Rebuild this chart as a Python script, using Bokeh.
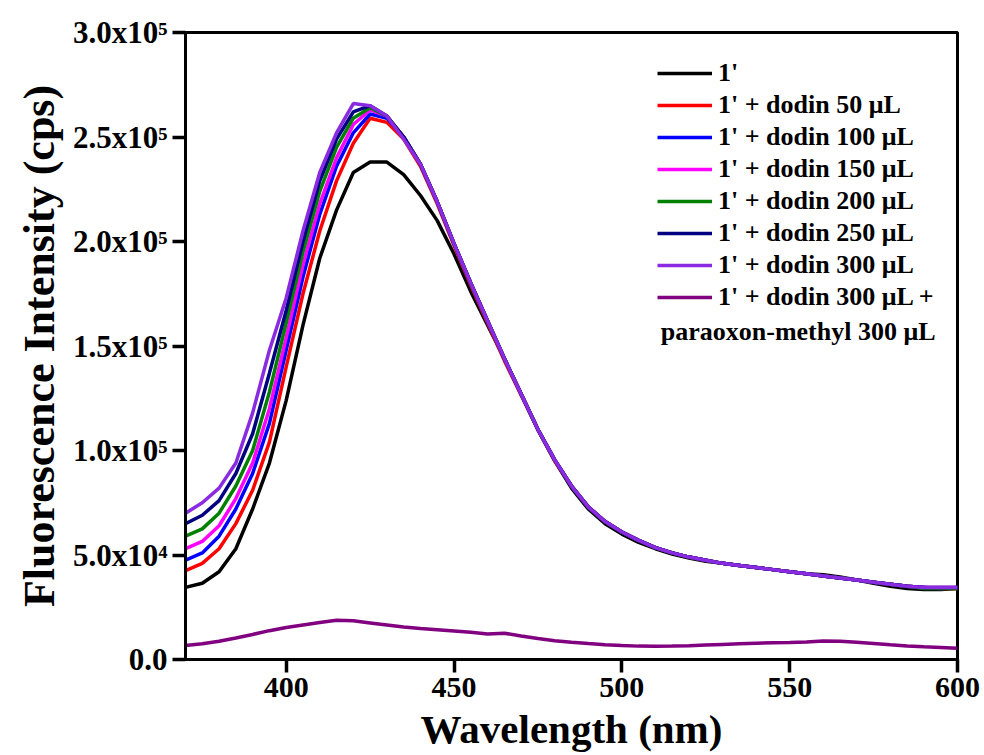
from bokeh.plotting import figure
from bokeh.models import Legend, LegendItem, Label, FixedTicker, Range1d
from bokeh.embed import file_html
from bokeh.resources import INLINE

# ---------------- data ----------------
wavelength = [370, 375, 380, 385, 390, 395, 400, 405, 410, 415, 420, 425,
              430, 435, 440, 445, 450, 455, 460, 465, 470, 475, 480, 485,
              490, 495, 500, 505, 510, 515, 520, 525, 530, 535, 540, 545,
              550, 555, 560, 565, 570, 575, 580, 585, 590, 595, 600]

s_1 = [34500, 36500, 42000, 53000, 72000, 94000, 124000, 160000, 192000, 215000, 233000, 238000,
       238000, 232000, 222000, 210000, 194000, 176000, 160000, 144000, 127000, 110000, 95000, 82000,
       72000, 65000, 60000, 56000, 53000, 50500, 48500, 47000, 46000, 45000, 44000, 43000,
       42000, 41000, 40500, 39500, 38000, 36500, 35000, 34000, 33500, 33500, 34000]

s_50 = [42500, 46000, 53000, 65000, 81000, 104000, 140000, 175000, 205000, 229000, 247000, 259000,
        257000, 249000, 236000, 218000, 198000, 179000, 161000, 143000, 126500, 110000, 95000, 83000,
        73000, 66000, 61000, 57000, 53500, 51000, 49000, 47500, 46000, 45000, 44000, 43000,
        42000, 41000, 40000, 39000, 38000, 37000, 36000, 35000, 34500, 34000, 34000]

s_100 = [47500, 51000, 59000, 72000, 89000, 113000, 148000, 183000, 213000, 236000, 252000, 261000,
         259000, 250000, 237000, 219000, 199000, 180000, 162000, 144000, 127000, 110000, 95500, 83000,
         73000, 66000, 61000, 57000, 53500, 51000, 49000, 47500, 46000, 45000, 44000, 43000,
         42000, 41000, 40000, 39000, 38000, 37000, 36000, 35000, 34500, 34000, 34500]

s_150 = [53000, 56500, 64000, 77000, 94000, 120000, 154000, 189000, 218000, 240000, 256000, 263000,
         260000, 250000, 237000, 219000, 199000, 180000, 162000, 144000, 127000, 110000, 95500, 83000,
         73000, 66000, 61000, 57000, 53500, 51000, 49000, 47500, 46000, 45000, 44000, 43000,
         42000, 41000, 40000, 39000, 38000, 37000, 36000, 35000, 34500, 34500, 34500]

s_200 = [59000, 62500, 70000, 83000, 100000, 128000, 161000, 195000, 224000, 245000, 259000, 264000,
         260000, 250000, 237000, 219000, 199000, 180000, 162000, 144000, 127000, 110000, 95500, 83000,
         73000, 66000, 61000, 57000, 53500, 51000, 49000, 47500, 46000, 45000, 44000, 43000,
         42000, 41000, 40000, 39000, 38000, 37000, 36000, 35000, 34000, 34000, 34000]

s_250 = [65000, 69000, 76000, 89000, 108000, 137000, 167000, 200000, 229000, 249000, 262000, 265000,
         260000, 250000, 237000, 219000, 199000, 180000, 162000, 144000, 127000, 110000, 95500, 83000,
         73000, 66000, 61000, 57000, 53500, 51000, 49000, 47500, 46000, 45000, 44000, 43000,
         42000, 41000, 40000, 39000, 38000, 37000, 36000, 35000, 34500, 34500, 34500]

s_300 = [70000, 75000, 82000, 94000, 118000, 148000, 173000, 205000, 233000, 252000, 266000, 265000,
         260000, 249000, 237000, 219000, 199000, 180000, 162000, 144000, 127000, 110000, 95500, 83000,
         73000, 66000, 61000, 57000, 53500, 51000, 49000, 47500, 46000, 45000, 44000, 43000,
         42000, 41000, 40000, 39000, 38000, 37000, 36000, 35000, 34500, 34500, 34500]

s_paraoxon = [6700, 7500, 8700, 10300, 12000, 13800, 15300, 16500, 17700, 18800, 18500, 17500,
              16500, 15500, 14800, 14200, 13600, 13000, 12200, 12600, 11200, 10000, 9000, 8200,
              7600, 7100, 6700, 6400, 6300, 6400, 6600, 6900, 7200, 7500, 7800, 8000,
              8100, 8400, 8900, 8700, 8200, 7600, 7000, 6500, 6100, 5800, 5400]

series_labels = ["1'", "1' + dodin 50 \u03bcL", "1' + dodin 100 \u03bcL", "1' + dodin 150 \u03bcL",
                 "1' + dodin 200 \u03bcL", "1' + dodin 250 \u03bcL", "1' + dodin 300 \u03bcL",
                 "1' + dodin 300 \u03bcL +"]
extra_label = "paraoxon-methyl 300 \u03bcL"
series_values = [s_1, s_50, s_100, s_150, s_200, s_250, s_300, s_paraoxon]
series_colors = ["#000000", "#ff0000", "#0000ff", "#ff00ff", "#008000", "#000080", "#8a2be2", "#800080"]

x_ticks = [400, 450, 500, 550, 600]
y_ticks = [0, 50000, 100000, 150000, 200000, 250000, 300000]
y_tick_labels = ["0.0", "5.0x10\u2074", "1.0x10\u2075", "1.5x10\u2075", "2.0x10\u2075",
                 "2.5x10\u2075", "3.0x10\u2075"]

FONT = "Liberation Serif"

# ---------------- figure ----------------
p = figure(width=984, height=755, output_backend="svg", toolbar_location=None,
           x_range=Range1d(370, 600), y_range=Range1d(0, 300000),
           min_border_left=185, min_border_right=27, min_border_top=32, min_border_bottom=96)
p.xgrid.visible = False
p.ygrid.visible = False
p.outline_line_color = "black"
p.outline_line_width = 3

renderers = []
for vals, col in zip(series_values, series_colors):
    r = p.line(wavelength, vals, line_color=col, line_width=3.5)
    renderers.append(r)

p.xaxis.ticker = FixedTicker(ticks=x_ticks)
p.yaxis.ticker = FixedTicker(ticks=y_ticks)
p.yaxis.major_label_overrides = {float(t): lab for t, lab in zip(y_ticks, y_tick_labels)}

for axes in (p.xaxis, p.yaxis):
    axes.axis_line_width = 3
    axes.major_tick_out = 13
    axes.major_tick_in = 0
    axes.major_tick_line_color = "black"
    axes.major_tick_line_width = 3.5
    axes.major_label_text_font = FONT
    axes.major_label_text_font_style = "bold"
    axes.major_label_text_color = "black"
    axes.axis_label_text_font = FONT
    axes.axis_label_text_font_style = "bold"
    axes.axis_label_text_color = "black"

p.xaxis.major_label_text_font_size = "30px"
p.yaxis.major_label_text_font_size = "31px"
p.xaxis.axis_label_text_font_size = "41px"
p.yaxis.axis_label_text_font_size = "44px"

p.xaxis.axis_label = "Wavelength (nm)"
p.yaxis.axis_label = "Fluorescence Intensity (cps)"
p.xaxis.major_label_standoff = 5
p.yaxis.major_label_standoff = 5
p.xaxis.axis_label_standoff = 6
p.yaxis.axis_label_standoff = 6

items = [LegendItem(label=lab, renderers=[r]) for lab, r in zip(series_labels, renderers)]
legend = Legend(items=items, location=(472, 346), padding=0, margin=0, spacing=0,
                glyph_width=55, glyph_height=32, label_height=32, label_standoff=6,
                label_text_font=FONT, label_text_font_style="bold", label_text_font_size="26px",
                label_text_color="black", border_line_color=None, background_fill_alpha=0.0)
p.add_layout(legend)

extra = Label(x=750, y=328, x_units="screen", y_units="screen", text=extra_label,
              text_align="right", text_baseline="middle", text_font=FONT,
              text_font_style="bold", text_font_size="26px", text_color="black")
p.add_layout(extra)

open("out.html", "w").write(file_html(p, INLINE))
